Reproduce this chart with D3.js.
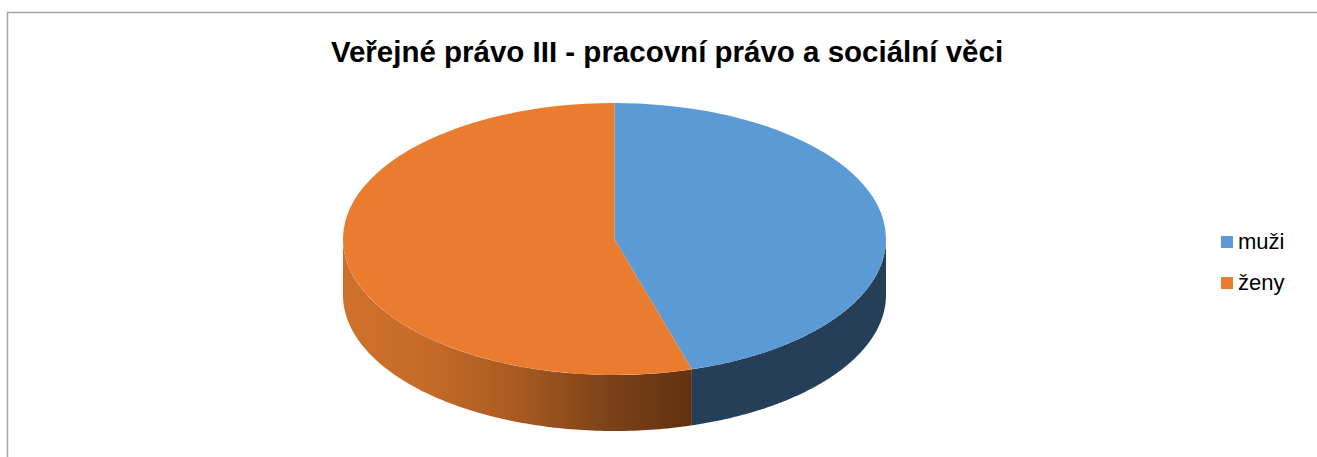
<!DOCTYPE html>
<html><head><meta charset="utf-8">
<script src="https://cdn.jsdelivr.net/npm/d3@7"></script>
<style>html,body{margin:0;padding:0;background:#fff}svg{display:block}text{font-family:"Liberation Sans",Arial,sans-serif;fill:#000}</style>
</head><body><svg id="c" width="1317" height="457"></svg>
<script>
const titleText = "Veřejné právo III - pracovní právo a sociální věci";
const categories = ["muži", "ženy"];
const values = [45.4, 54.6];
const topColors = ["#5b9ad5", "#ea7c30"];
const wallStops = [
  ["#243f57", "#243f57"],
  ["#cf712b", "#c46a28", "#a85a20", "#7d431a", "#62310f"]
];

const W = 1317, H = 457;
const cx = 614.5, cy = 239, rx = 271.5, ry = 136, depth = 56;
const svg = d3.select("#c");
const defs = svg.append("defs");

svg.append("path")
  .attr("d", `M${W},12.5H7.5V${H}`)
  .attr("fill", "none").attr("stroke", "#a6a6a6").attr("stroke-width", 1.5);

svg.append("text").attr("x", 667).attr("y", 62).attr("text-anchor", "middle")
  .attr("font-size", 29.5).attr("font-weight", "bold").text(titleText);

const pie = d3.pie().sort(null).value(d => d);
const arcs = pie(values);
const arcGen = d3.arc().innerRadius(0).outerRadius(rx);
const px = a => cx + rx * Math.sin(a);
const py = a => cy - ry * Math.cos(a);

// Side walls: the visible (front) part of every slice, from PI/2 to 3PI/2
arcs.forEach((s, i) => {
  const a0 = Math.max(s.startAngle, Math.PI / 2);
  const a1 = Math.min(s.endAngle, 3 * Math.PI / 2);
  if (a1 <= a0) return;
  const p = d3.path();
  p.moveTo(px(a0), py(a0));
  const n = 120;
  const along = d3.scaleLinear().domain([0, n]).range([a0, a1]);
  d3.range(1, n + 1).forEach(k => p.lineTo(px(along(k)), py(along(k))));
  d3.range(n, -1, -1).forEach(k => p.lineTo(px(along(k)), py(along(k)) + depth));
  p.closePath();
  const id = "wall" + i;
  const x0 = Math.min(px(a0), px(a1)), x1 = Math.max(px(a0), px(a1));
  const g = defs.append("linearGradient").attr("id", id).attr("gradientUnits", "userSpaceOnUse")
    .attr("x1", x0).attr("x2", x1).attr("y1", 0).attr("y2", 0);
  // the stops run left to right across the wall
  wallStops[i].forEach((c, k, a) => g.append("stop")
    .attr("offset", k / (a.length - 1)).attr("stop-color", c));
  svg.append("path").attr("d", p.toString()).attr("fill", `url(#${id})`);
});

// Top face
svg.append("g").attr("transform", `translate(${cx},${cy}) scale(1,${ry / rx})`)
  .selectAll("path").data(arcs).join("path")
  .attr("d", arcGen).attr("fill", (d, i) => topColors[i]);

// Legend
const legend = svg.append("g").selectAll("g").data(categories).join("g")
  .attr("transform", (d, i) => `translate(1221,${236 + i * 41})`);
legend.append("rect").attr("width", 12).attr("height", 12).attr("fill", (d, i) => topColors[i]);
legend.append("text").attr("x", 17).attr("y", 12.5).attr("font-size", 22).text(d => d);
</script></body></html>
